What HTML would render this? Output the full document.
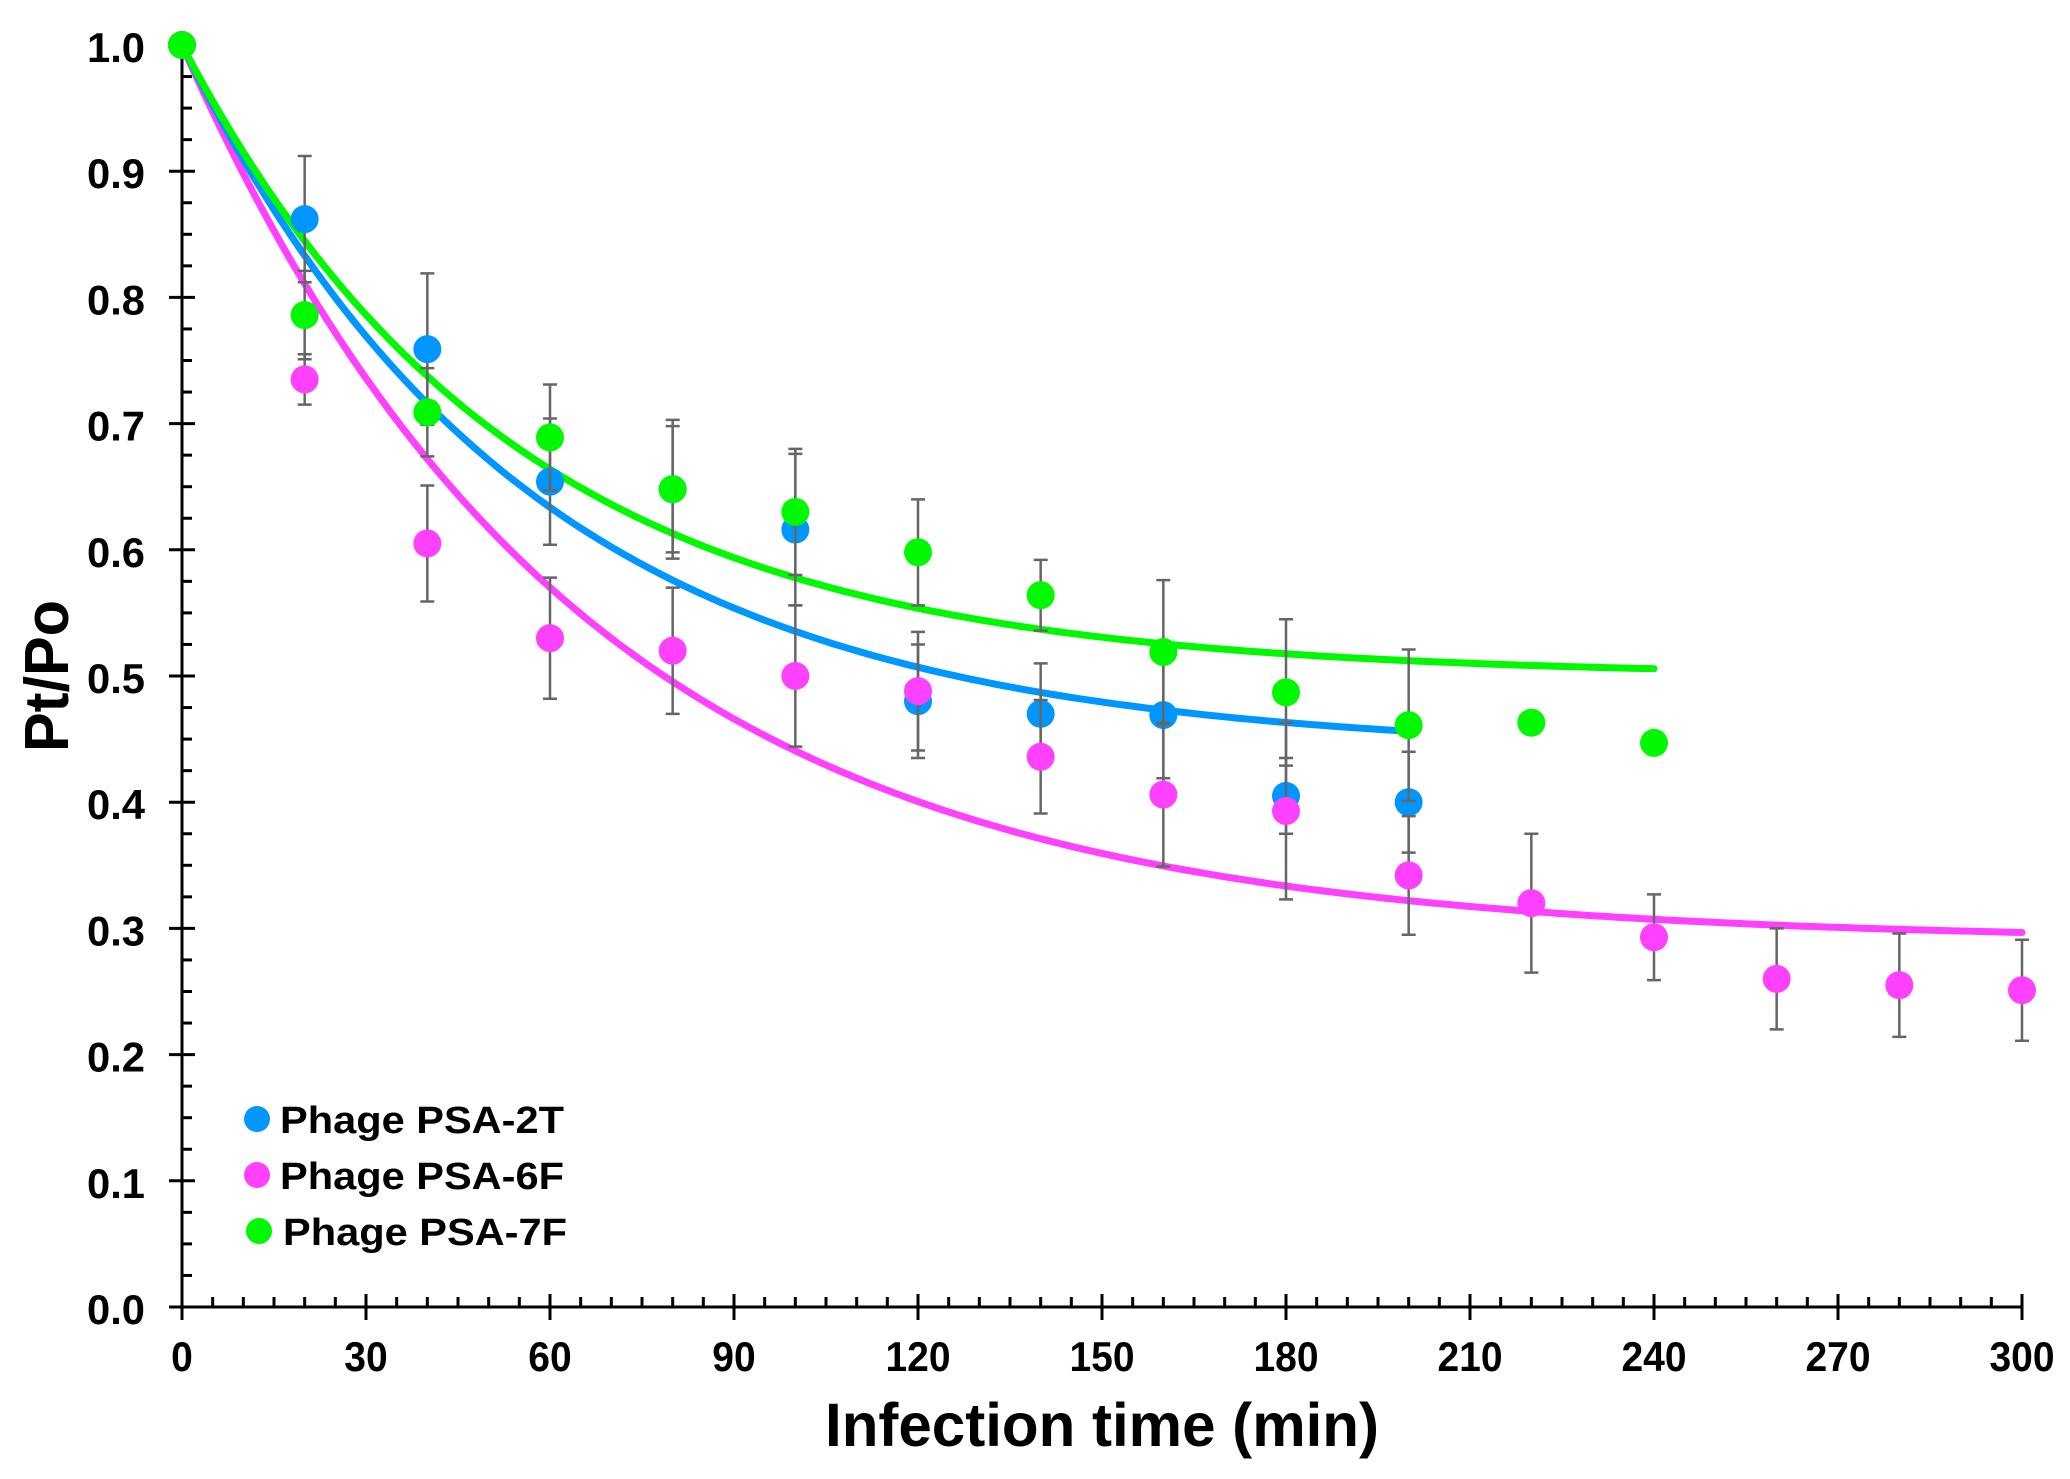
<!DOCTYPE html>
<html><head><meta charset="utf-8"><style>
body{margin:0;background:#fff;}
svg{display:block;font-family:"Liberation Sans",Arial,sans-serif;font-weight:bold;}
</style></head><body>
<svg id="chart" width="2070" height="1479" viewBox="0 0 2070 1479">
<g id="axes"></g>
<g id="curves"></g>
<g id="marks"></g>
<text x="825" y="1446" font-size="61" textLength="554" lengthAdjust="spacingAndGlyphs">Infection time (min)</text>
<text transform="translate(68,752) rotate(-90)" font-size="62" textLength="152" lengthAdjust="spacingAndGlyphs">Pt/Po</text>
<g>
<circle cx="257" cy="1119" r="13" fill="#0096FF"/>
<text x="280" y="1133" font-size="38" textLength="284" lengthAdjust="spacingAndGlyphs">Phage PSA-2T</text>
<circle cx="257" cy="1175" r="13" fill="#FF40FF"/>
<text x="280" y="1189" font-size="38" textLength="284" lengthAdjust="spacingAndGlyphs">Phage PSA-6F</text>
<circle cx="259" cy="1231" r="13" fill="#00F900"/>
<text x="283" y="1245" font-size="38" textLength="284" lengthAdjust="spacingAndGlyphs">Phage PSA-7F</text>
</g>
</svg>
<script>
const xTicks=[0,30,60,90,120,150,180,210,240,270,300];
const yTicks=[0,0.1,0.2,0.3,0.4,0.5,0.6,0.7,0.8,0.9,1.0];
const yTickLabels=["0.0","0.1","0.2","0.3","0.4","0.5","0.6","0.7","0.8","0.9","1.0"];
const t2T=[0,20,40,60,80,100,120,140,160,180,200];
const v2T=[1,0.862,0.759,0.654,0.648,0.616,0.480,0.470,0.469,0.405,0.400];
const e2T=[0,0.05,0.06,0.05,0.05,0.06,0.045,0.04,0.05,0.03,0.04];
const t6F=[0,20,40,60,80,100,120,140,160,180,200,220,240,260,280,300];
const v6F=[1,0.735,0.605,0.530,0.520,0.500,0.488,0.436,0.406,0.393,0.342,0.320,0.293,0.260,0.255,0.251];
const e6F=[0,0.02,0.046,0.048,0.05,0.056,0.047,0.045,0.057,0.07,0.047,0.055,0.034,0.04,0.041,0.04];
const t7F=[0,20,40,60,80,100,120,140,160,180,200,220,240];
const v7F=[1,0.786,0.709,0.689,0.648,0.630,0.598,0.564,0.519,0.487,0.461,0.463,0.447];
const e7F=[0,0.035,0.035,0.042,0.055,0.05,0.042,0.028,0.057,0.058,0.06,0,0];
// fit params: asymptote, rate, end time
const fit2T=[0.44,0.0177,200];
const fit6F=[0.29,0.0155,300];
const fit7F=[0.50,0.0186,240];
const X=v=>182+v*(1840/300);
const Y=v=>1307-v*1262;
const NS="http://www.w3.org/2000/svg";
function mk(tag,attrs,parent){const e=document.createElementNS(NS,tag);for(const k in attrs)e.setAttribute(k,attrs[k]);parent.appendChild(e);return e;}
const ax=document.getElementById('axes');
let el=mk('line',{x1:X(0)-12,y1:Y(0),x2:X(300),y2:Y(0),stroke:'#000','stroke-width':3},ax);


el=mk('line',{x1:X(0),y1:Y(0)+12,x2:X(0),y2:Y(1),stroke:'#000','stroke-width':3},ax);


for(let m=0;m<=300;m+=5){const maj=m%30===0;mk('line',{x1:X(m),x2:X(m),y1:maj?Y(0)-13:Y(0)-10,y2:maj?Y(0)+13:Y(0),stroke:'#000','stroke-width':3},ax);}
for(let i=0;i<=40;i++){const v=i*0.025;const maj=i%4===0;mk('line',{y1:Y(v),y2:Y(v),x1:maj?X(0)-13:X(0),x2:X(0)+10+(maj?3:0),stroke:'#000','stroke-width':3},ax);}
xTicks.forEach(v=>{const s=String(v);const w=s.length*21.7;const t=mk('text',{x:X(v)-w/2,y:1371,'font-size':42,textLength:w,lengthAdjust:'spacingAndGlyphs'},ax);t.textContent=s;

});
yTicks.forEach((v,i)=>{const t=mk('text',{x:87,y:Y(v)+17,'font-size':42,textLength:58,lengthAdjust:'spacingAndGlyphs'},ax);t.textContent=yTickLabels[i];

});
const cg=document.getElementById('curves');
function curve(p,col,name){let d='';for(let t=0;t<=p[2];t+=2){const v=p[0]+(1-p[0])*Math.exp(-p[1]*t);d+=(t?'L':'M')+X(t).toFixed(1)+','+Y(v).toFixed(1);}
const c=mk('path',{d:d,fill:'none',stroke:col,'stroke-width':7,'stroke-linecap':'round'},cg);

}
const mg=document.getElementById('marks');
function series(ts,vs,es,col,name){
ts.forEach((t,i)=>{if(es[i]>0){const x=X(t);const a=Y(vs[i]+es[i]),b=Y(vs[i]-es[i]);
mk('path',{d:`M${x},${a}V${b}M${x-7},${a}H${x+7}M${x-7},${b}H${x+7}`,stroke:'#666','stroke-width':2.5,fill:'none'},mg);}});
ts.forEach((t,i)=>{const c=mk('circle',{cx:X(t),cy:Y(vs[i]),r:14,fill:col},mg);

});}
series(t2T,v2T,e2T,'#0096FF','point-psa-2t');
series(t6F,v6F,e6F,'#FF40FF','point-psa-6f');
series(t7F,v7F,e7F,'#00F900','point-psa-7f');
curve(fit6F,'#FF40FF','fit-psa-6f');
curve(fit2T,'#0096FF','fit-psa-2t');
curve(fit7F,'#00F900','fit-psa-7f');
</script>
</body></html>
